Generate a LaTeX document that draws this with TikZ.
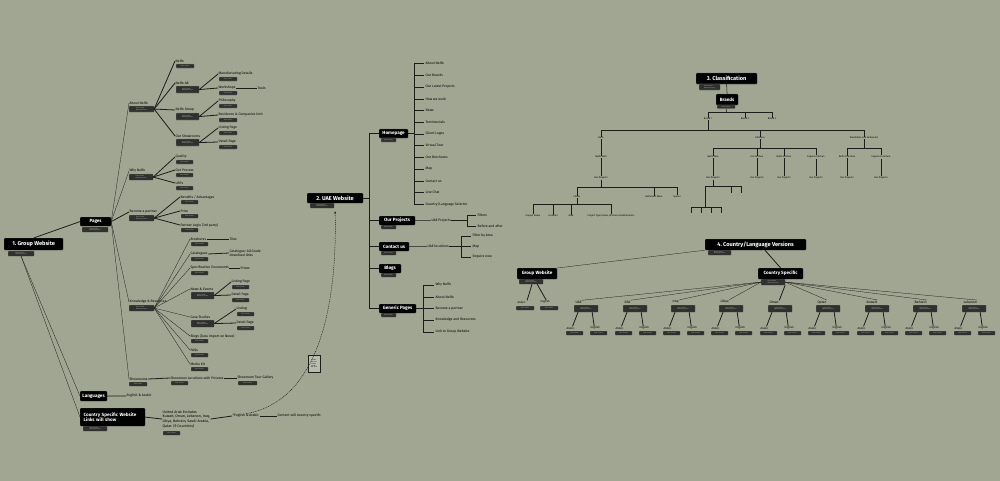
\documentclass[tikz,border=0pt]{standalone}
\usepackage{fontspec}
\setmainfont{Fira Sans}
\usetikzlibrary{calc,arrows.meta}
\definecolor{bgc}{RGB}{160,166,146}
\definecolor{tagc}{RGB}{48,48,46}
\definecolor{tagt}{RGB}{205,205,200}
\definecolor{lnc}{RGB}{28,28,26}
\newcommand\bigx[6]{\node[bigbox,minimum width=#4pt,minimum height=#5pt] (#1) at (#2,#3) {#6};}
\newcommand\headx[6]{\node[headbox,minimum width=#4pt,minimum height=#5pt] (#1) at (#2,#3) {#6};}
\newcommand\tagx[6]{\node[tagbox,minimum width=#4pt,minimum height=#5pt] (#1) at (#2,#3) {#6};}
\newcommand\lbx[4]{\node[lbl] (#1) at (#2,#3) {#4};}
\newcommand\clx[4]{\node[clab] (#1) at (#2,#3) {#4};}
\newcommand\sone{Static Content}
\newcommand\stwo{Static Content\\Marketing Content}
\begin{document}
\begin{tikzpicture}[x=1pt,y=-1pt,
  bigbox/.style={anchor=north west, fill=black, text=white, font=\bfseries\fontsize{4.6}{5.6}\selectfont, inner sep=0.8pt, rounded corners=0.8pt, draw=black!60!white, line width=0.2pt},
  headbox/.style={bigbox, font=\bfseries\fontsize{5.6}{6.4}\selectfont},
  tagbox/.style={anchor=north west, fill=tagc, draw=gray, line width=0.15pt, text=tagt, font=\fontsize{1.3}{1.5}\selectfont, inner sep=0.3pt, rounded corners=0.5pt, align=left},
  lbl/.style={anchor=west, font=\fontsize{3.4}{4.2}\selectfont, inner sep=0.4pt, align=left},
  slbl/.style={lbl, font=\fontsize{2.8}{3.2}\selectfont},
  clab/.style={anchor=center, font=\fontsize{2.4}{2.9}\selectfont, inner sep=0.3pt},
  thinl/.style={draw=lnc, line width=0.3pt},
  wdg/.style={draw=lnc, line width=0.8pt},
  brk/.style={draw=lnc, line width=0.5pt}]
\fill[bgc] (0,0) rectangle (1000,481);
\useasboundingbox (0,0) rectangle (1000,481);

% ================= SECTION 1 =================
\headx{gw}{4}{238}{59}{12}{1.\ Group Website}
\tagx{gwt}{8}{251}{26}{5}{\stwo}
\bigx{pages}{80}{217}{31}{9}{Pages}
\tagx{pagest}{82}{227}{26}{5}{\stwo}
\bigx{lang}{80}{391}{27}{10}{Languages}
\node[bigbox,align=left,minimum width=65pt,minimum height=18pt,text width=58pt] (csw) at (80,408) {Country Specific Website\\Links will show};
\tagx{cswt}{83}{426}{24}{5}{\stwo}

\lbx{engar}{126}{396}{English \& Arabic}
\node[lbl,font=\fontsize{3.6}{4.7}\selectfont] (uac) at (162,419) {United Arab Emirates\\Kuwait, Oman, Lebanon, Iraq,\\Libya, Bahrain, Saudi Arabia,\\Qatar. (9 Countries)};
\tagx{uact}{163}{431}{17}{4}{\sone}
\lbx{engar2}{232}{416}{*English \& Arabic}
\lbx{content}{277}{416}{Content will country specific}

% pages children
\lbx{an}{129}{103}{About Nelfo}   \tagx{ant}{129}{106}{25}{6}{\stwo}
\lbx{wn}{129}{171}{Why Nelfo}     \tagx{wnt}{129}{174}{24}{6}{\stwo}
\lbx{bp}{129}{212}{Become a partner} \tagx{bpt}{129}{215}{25}{6}{\stwo}
\lbx{kr}{129}{302}{Knowledge \& Resources} \tagx{krt}{129}{305}{25}{6}{\stwo}
\lbx{sh}{129}{379}{Showrooms}     \tagx{sht}{129}{382}{18}{4}{\sone}

% about children
\lbx{a1}{175}{61}{Nelfo}          \tagx{a1t}{176}{64}{18}{4}{\sone}
\lbx{a2}{175}{83}{Nelfo AB}       \tagx{a2t}{176}{86}{23}{7}{\stwo}
\lbx{a3}{175}{110}{Nelfo Group}   \tagx{a3t}{176}{113}{23}{7}{\stwo}
\lbx{a4}{175}{136}{Our Showrooms} \tagx{a4t}{176}{139}{23}{7}{\stwo}
\lbx{a21}{218}{74}{Manufacturing Details} \tagx{a21t}{219}{77}{18}{4}{\sone}
\lbx{a22}{218}{88}{Workshops}     \tagx{a22t}{219}{91}{18}{4}{\sone}
\lbx{a221}{257}{88}{Tools}
\lbx{a31}{218}{101}{Philosophy}   \tagx{a31t}{219}{104}{18}{4}{\sone}
\lbx{a32}{218}{115}{Residence \& Companies Unit} \tagx{a32t}{219}{118}{18}{4}{\sone}
\lbx{a41}{218}{128}{Listing Page} \tagx{a41t}{219}{131}{18}{4}{\sone}
\lbx{a42}{218}{142}{Detail Page}  \tagx{a42t}{219}{145}{18}{4}{\sone}

% why children
\lbx{w1}{175}{157}{Quality}       \tagx{w1t}{176}{160}{17}{4}{\sone}
\lbx{w2}{175}{170}{Our Process}   \tagx{w2t}{176}{173}{17}{4}{\sone}
\lbx{w3}{175}{183}{USPs}          \tagx{w3t}{176}{186}{17}{4}{\sone}

% become children
\lbx{b1}{180}{197}{Benefits / Advantages} \tagx{b1t}{181}{200}{17}{4}{\sone}
\lbx{b2}{180}{211}{Price}         \tagx{b2t}{181}{214}{17}{4}{\sone}
\lbx{b3}{180}{225}{Partner Login (3rd party)} \tagx{b3t}{181}{228}{17}{4}{\sone}

% knowledge children
\lbx{k1}{190}{239}{Brochures}     \tagx{k1t}{191}{242}{17}{4}{\sone}
\lbx{k11}{229}{239}{Tiles}
\lbx{k2}{190}{254}{Catalogues}    \tagx{k2t}{191}{257}{17}{4}{\sone}
\lbx{k21}{229}{253}{Catalogue: All Grade\\download links}
\lbx{k3}{190}{268}{Specification Documents} \tagx{k3t}{191}{271}{17}{4}{\sone}
\lbx{k31}{240}{268}{Prices}
\lbx{k4}{190}{289}{News \& Events} \tagx{k4t}{191}{292}{23}{7}{\stwo}
\lbx{k41}{231}{282}{Listing Page} \tagx{k41t}{232}{285}{17}{4}{\sone}
\lbx{k42}{231}{295}{Detail Page}  \tagx{k42t}{232}{298}{17}{4}{\sone}
\lbx{k5}{190}{317}{Case Studies}  \tagx{k5t}{191}{320}{23}{7}{\stwo}
\lbx{k51}{236}{309}{Listing}      \tagx{k51t}{237}{312}{17}{4}{\sone}
\lbx{k52}{236}{323}{Detail Page}  \tagx{k52t}{237}{326}{17}{4}{\sone}
\lbx{k6}{190}{336}{Blogs (Data Import on News)} \tagx{k6t}{191}{339}{17}{4}{\sone}
\lbx{k7}{190}{350}{FAQs}          \tagx{k7t}{191}{353}{17}{4}{\sone}
\lbx{k8}{190}{364}{Media Kit}     \tagx{k8t}{191}{367}{17}{4}{\sone}

% showrooms children
\lbx{s1}{170}{378}{Showroom Locations with Pictures} \tagx{s1t}{171}{381}{17}{4}{\sone}
\lbx{s11}{237}{378}{Showroom Tour Gallery} \tagx{s11t}{238}{381}{19}{4}{\sone}

% section 1 connectors
\draw[wdg] (gw.north) -- (pages.west);
\draw[thinl] (gwt.south) -- (lang.west);
\draw[thinl] (gwt.south) -- (csw.west);
\draw[thinl] (pages.east) -- (an.west);
\draw[thinl] (pages.east) -- (wn.west);
\draw[wdg] (pages.east) -- (bp.west);
\draw[thinl] (pages.east) -- (kr.west);
\draw[thinl] (pages.east) -- (sh.west);
\foreach \c in {a1,a2,a3,a4} \draw[wdg] (ant.east) -- (\c.west);
\foreach \c in {a21,a22} \draw[wdg] (a2t.east) -- (\c.west);
\draw[wdg] (a22.east) -- (a221.west);
\foreach \c in {a31,a32} \draw[wdg] (a3t.east) -- (\c.west);
\foreach \c in {a41,a42} \draw[wdg] (a4t.east) -- (\c.west);
\foreach \c in {w1,w2,w3} \draw[wdg] (wnt.east) -- (\c.west);
\foreach \c in {b1,b2,b3} \draw[wdg] (bpt.east) -- (\c.west);
\foreach \c in {k1,k2,k3,k4,k5,k6,k7,k8} \draw[thinl] (krt.east) -- (\c.west);
\draw[wdg] (k1.east) -- (k11.west);
\draw[wdg] (k2.east) -- (k21.west);
\draw[wdg] (k3.east) -- (k31.west);
\foreach \c in {k41,k42} \draw[wdg] (k4t.east) -- (\c.west);
\foreach \c in {k51,k52} \draw[wdg] (k5t.east) -- (\c.west);
\draw[wdg] (sh.east) -- (s1.west);
\draw[wdg] (s1.east) -- (s11.west);
\draw[wdg] (lang.east) -- (engar.west);
\draw[wdg] (csw.east) -- (uac.west);
\draw[wdg] (uac.east) -- (engar2.west);
\draw[wdg] (engar2.east) -- (content.west);

% ================= SECTION 2 =================
\headx{uae}{307}{193}{56}{10}{2.\ UAE Website}
\tagx{uaet}{310}{203}{24}{5}{\stwo}
\bigx{hp}{379}{129}{29}{9}{Homepage}     \tagx{hpt}{381}{138}{15}{4}{\sone}
\bigx{op}{379}{216}{36}{9}{Our Projects} \tagx{opt}{381}{225}{15}{4}{\sone}
\bigx{cu}{379}{242}{30}{9}{Contact us}   \tagx{cut}{381}{251}{15}{4}{\sone}
\bigx{bl}{379}{264}{22}{9}{Blogs}        \tagx{blt}{381}{273}{15}{4}{\sone}
\bigx{gp}{379}{304}{37}{9}{Generic Pages}\tagx{gpt}{381}{313}{15}{4}{\sone}
\coordinate (bt) at (369,133.5);
\coordinate (bb) at (369,308.5);
\draw[brk] (bt) -- (bb);
\draw[brk] (uae.east) -- (uae.east -| bt);
\foreach \c in {hp,op,cu,bl,gp} \draw[brk] (\c.west -| bt) -- (\c.west);

\coordinate (h0) at (414,63);
\coordinate (h9) at (414,204);
\draw[brk] (h0) -- (h9);
\draw[brk] (hp.east) -- (hp.east -| h0);
\foreach \n/\t/\y in {h1/{About Nelfo}/63, h2/{Our Brands}/75, h3/{Our Latest Projects}/87, h4/{How we work}/99, h5/{News}/110, h6/{Testimonials}/122, h7/{Client Logos}/134, h8/{Virtual Tour}/145, h10/{Our Brochures}/157, h11/{Map}/169, h12/{Contact us}/181, h13/{Live Chat}/192, h14/{Country/Language Selector}/204}{
  \node[lbl] (\n) at (425,\y) {\t};
  \draw[brk] (\n.west -| h0) -- ([xshift=-1.5pt]\n.west);
}

\lbx{upj}{431}{220.5}{UAE Projects}
\draw[brk] (op.east) -- (upj.west);
\coordinate (u1) at (467,215);
\coordinate (u2) at (467,226);
\lbx{fil}{477}{215}{Filters}
\lbx{baf}{477}{226}{Before and after}
\draw[brk] (upj.east) -- (upj.east -| u1);
\draw[brk] (u1) -- (u2);
\draw[brk] (u1) -- ([xshift=-1.5pt]fil.west);
\draw[brk] (u2) -- ([xshift=-1.5pt]baf.west);

\lbx{ulo}{427}{246.5}{UAE locations}
\draw[brk] (cu.east) -- (ulo.west);
\coordinate (v1) at (461,236);
\coordinate (v3) at (461,257);
\lbx{fba}{472}{236}{Filter by Area}
\lbx{map}{472}{246.5}{Map}
\lbx{enq}{472}{257}{Enquire now}
\draw[brk] (ulo.east) -- ([xshift=-1.5pt]map.west);
\draw[brk] (v1) -- (v3);
\draw[brk] (v1) -- ([xshift=-1.5pt]fba.west);
\draw[brk] (v3) -- ([xshift=-1.5pt]enq.west);

\coordinate (g0) at (423,285);
\coordinate (g5) at (423,332);
\draw[brk] (g0) -- (g5);
\draw[brk] (gp.east) -- (gp.east -| g0);
\foreach \n/\t/\y in {g1/{Why Nelfo}/285, g2/{About Nelfo}/297, g3/{Become a partner}/308.5, g4/{Knowledge and Resources}/320, g6/{Link to Group Website}/332}{
  \node[lbl] (\n) at (435,\y) {\t};
  \draw[brk] (\n.west -| g0) -- ([xshift=-1.5pt]\n.west);
}

% note and dashed curve
\node[anchor=north west, draw=lnc, line width=0.2pt, fill=bgc!75!white, minimum width=12pt, minimum height=17pt, inner sep=0.5pt, align=left, font=\fontsize{1.4}{1.9}\selectfont] (note) at (308,355) {If Arabic\\selected\\content\\specific\\will show};
\draw[lnc, line width=0.45pt, dash pattern=on 1pt off 0.8pt, -{Stealth[length=2.5pt,width=2pt]}] (engar2.north) .. controls (325,400) and (337,290) .. ([yshift=-8pt]uae.south);

% ================= SECTION 3 =================
\headx{cl}{696}{73}{61}{11}{3.\ Classification}
\tagx{clt}{699}{84}{21}{6}{\stwo}
\bigx{brands}{716}{94}{22}{11}{Brands}
\tagx{brandst}{717}{105}{18}{3.5}{\sone}
\draw[brk] (cl.south) -- (brands.north);
\clx{br1}{708}{119}{Brand 1}
\clx{br2}{745}{119}{Brand 2}
\clx{br3}{772}{119}{Brand 3}
\coordinate (j1) at (726.5,112);
\draw[brk] (brandst.south) -- (j1);
\draw[brk] (br1.north |- j1) -- (br3.north |- j1);
\foreach \c in {br1,br2,br3} \draw[brk] (\c.north |- j1) -- (\c.north);

\clx{bath}{601}{138}{Bath}
\clx{kit}{760}{138}{Kitchens}
\clx{ward}{864}{138}{Wardrobes and Bedrooms}
\coordinate (j2) at (708,130);
\draw[brk] (br1.south) -- (j2);
\draw[brk] (bath.north |- j2) -- (ward.north |- j2);
\foreach \c in {bath,kit,ward} \draw[brk] (\c.north |- j2) -- (\c.north);

\clx{nb}{601}{157}{Nelfo Bath}
\clx{bop}{601}{178}{Our Projects}
\draw[brk] (bath.south) -- (nb.north);
\draw[brk] (nb.south) -- (bop.north);
\coordinate (j3) at (601,187);
\clx{f1}{577}{197}{Filters}
\clx{f2}{654}{197}{Bathroom Ware}
\clx{f3}{677}{197}{Spares}
\draw[brk] (bop.south) -- (j3);
\draw[brk] (f1.north |- j3) -- (f3.north |- j3);
\foreach \c in {f1,f2,f3} \draw[brk] (\c.north |- j3) -- (\c.north);
\coordinate (j4) at (577,204);
\clx{p1}{533}{216}{Project Name}
\clx{p2}{553}{216}{Location}
\clx{p3}{571}{216}{Area}
\clx{p4}{611}{216}{Project Type (Glass, Kitchens \& Bathrooms)}
\draw[brk] (f1.south) -- (j4);
\draw[brk] (p1.north |- j4) -- (p4.north |- j4);
\foreach \c in {p1,p2,p3,p4} \draw[brk] (\c.north |- j4) -- (\c.north);

\coordinate (j5) at (760,148);
\clx{kn1}{713}{157}{Nelfo Neo}
\clx{kn2}{757}{157}{Eco Kitchen}
\clx{kn3}{784}{157}{Nelfo Kitchen}
\clx{kn4}{816}{157}{Express Kitchen}
\draw[brk] (kit.south) -- (j5);
\draw[brk] (kn1.north |- j5) -- (kn4.north |- j5);
\foreach \c in {kn1,kn2,kn3,kn4} \draw[brk] (\c.north |- j5) -- (\c.north);
\clx{kp1}{713}{178}{Our Projects}
\clx{kp2}{757}{178}{Our Projects}
\clx{kp3}{784}{178}{Our Projects}
\clx{kp4}{816}{178}{Our Projects}
\foreach \c/\d in {kn1/kp1,kn2/kp2,kn3/kp3,kn4/kp4} \draw[brk] (\c.south) -- (\d.north);
\coordinate (j6) at (713,186);
\coordinate (q1) at (705,193);
\coordinate (q2) at (731,193);
\coordinate (q3) at (741,193);
\draw[brk] (kp1.south) -- (j6);
\draw[brk] (q1 |- j6) -- (q3 |- j6);
\foreach \c in {q1,q2,q3} \draw[brk] (\c |- j6) -- (\c);
\coordinate (j7) at (705,207);
\coordinate (r1) at (691,213);
\coordinate (r2) at (701,213);
\coordinate (r3) at (711,213);
\coordinate (r4) at (721,213);
\draw[brk] (q1) -- (j7);
\draw[brk] (r1 |- j7) -- (r4 |- j7);
\foreach \c in {r1,r2,r3,r4} \draw[brk] (\c |- j7) -- (\c);

\coordinate (j8) at (864,148);
\clx{wn1}{847}{157}{Nelfo Furniture}
\clx{wn2}{881}{157}{Express Furniture}
\clx{wp1}{847}{178}{Our Projects}
\clx{wp2}{881}{178}{Our Projects}
\draw[brk] (ward.south) -- (j8);
\draw[brk] (wn1.north |- j8) -- (wn2.north |- j8);
\foreach \c in {wn1,wn2} \draw[brk] (\c.north |- j8) -- (\c.north);
\draw[brk] (wn1.south) -- (wp1.north);
\draw[brk] (wn2.south) -- (wp2.north);

% ================= SECTION 4 =================
\headx{cv}{705}{239}{101}{11}{4.\ Country/Language Versions}
\tagx{cvt}{708}{250}{23}{5}{\stwo}
\bigx{gw4}{517}{268}{40}{11}{Group Website}
\tagx{gw4t}{519}{279}{24}{5}{\stwo}
\bigx{cs}{758}{268}{45}{11}{Country Specific}
\tagx{cst}{761}{279}{24}{6}{\stwo}
\draw[thinl] (cv.south west) -- (gw4.north east);
\draw[wdg] ([xshift=60pt]cv.south west) -- (cs.north);

\node[slbl] (gwa) at (517,302) {Arabic};
\tagx{gwat}{516}{306}{18}{4}{\sone}
\node[slbl] (gwe) at (540,302) {English};
\tagx{gwet}{540}{306}{18}{4}{\sone}
\draw[wdg] ([xshift=13pt]gw4t.south west) -- ([xshift=1pt]gwa.north east);
\draw[wdg] ([xshift=-6pt]gw4t.south east) -- ([xshift=1pt]gwe.north);

\foreach \n/\t/\x in {c1/UAE/575,c2/KSA/624,c3/Iraq/672,c4/Libya/720,c5/Oman/769,c6/Qatar/817,c7/Kuwait/866,c8/Bahrain/914,c9/Lebanon/963}{
  \node[lbl] (\n) at (\x,302) {\t};
  \node[tagbox,minimum width=24pt,minimum height=7pt] (\n-t) at (\x-1,305) {\stwo};
  \node[slbl] (\n-a) at (\x-9,328) {Arabic};
  \node[tagbox,minimum width=17pt,minimum height=4pt] (\n-at) at (\x-9,331) {\sone};
  \node[slbl] (\n-e) at (\x+15,328) {English};
  \node[tagbox,minimum width=17pt,minimum height=4pt] (\n-et) at (\x+15,331) {\sone};
  \draw[wdg] ([xshift=4pt]\n-t.south west) -- ([xshift=2pt]\n-a.north);
  \draw[wdg] ([xshift=-6pt]\n-t.south east) -- ([xshift=-1pt]\n-e.north);
}
\foreach \n in {c1,c2,c3,c4} \draw[thinl] (cst.west) -- (\n.north east);
\draw[wdg] (cst.south east) -- (c5.north east);
\foreach \n in {c6,c7,c8,c9} \draw[thinl] (cst.east) -- (\n.north east);
\end{tikzpicture}
\end{document}
